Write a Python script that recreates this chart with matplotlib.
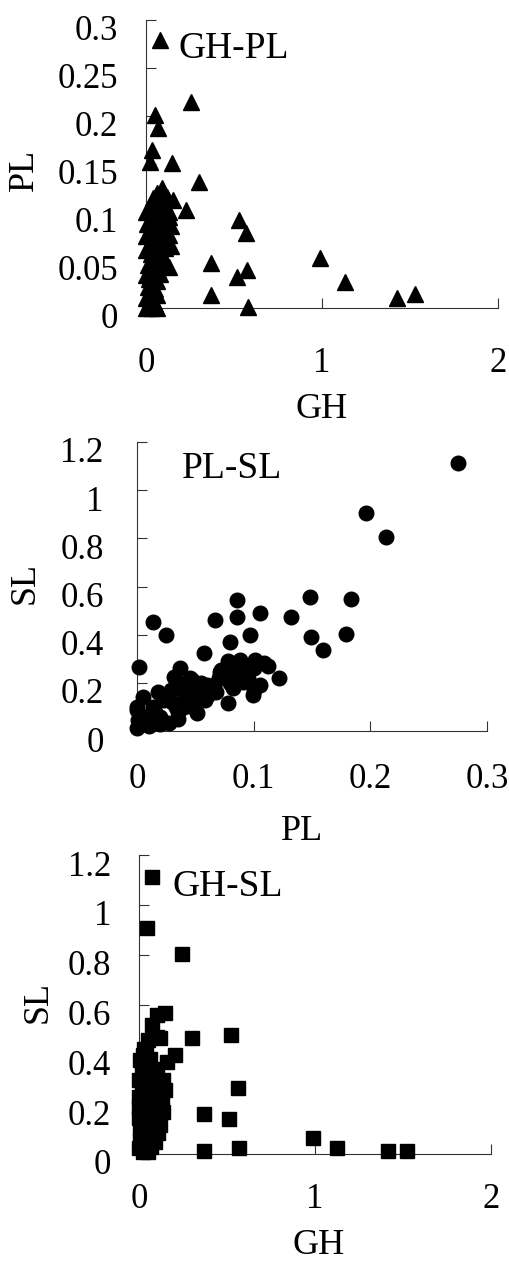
import matplotlib
matplotlib.use("Agg")
import matplotlib.pyplot as plt
from matplotlib.transforms import ScaledTranslation

plt.rcParams['font.family'] = ['Liberation Serif', 'DejaVu Serif']

# GH-PL panel (triangles)
gh_pl_gh = [0.08, 0.256, 0.051, 0.07, 0.032, 0.023, 0.146, 0.30, 0.227, 0.53,
            0.57, 0.37, 0.517, 0.574, 0.37, 0.58, 0.99, 1.13, 1.425, 1.53,
            0.13, 0.089, 0.07, 0.10, 0.118, 0.155, 0.023, 0.05, 0.08, 0.11,
            0.13, 0.004, 0.03, 0.06, 0.09, 0.12, 0.01, 0.04, 0.07, 0.10,
            0.13, 0.02, 0.05, 0.08, 0.11, 0.03, 0.06, 0.09, 0.01, 0.04,
            0.07, 0.0, 0.03, 0.06, 0.01, 0.04, 0.065, 0.0, 0.025, 0.05,
            0.0, 0.03, 0.06, 0.13, 0.14, 0.12, 0.14, 0.10, 0.11, 0.08,
            0.05, 0.02, 0.015, 0.0, 0.0, 0.0, 0.04, 0.06]
gh_pl_pl = [0.279, 0.215, 0.201, 0.187, 0.165, 0.152, 0.151, 0.131, 0.102, 0.092,
            0.078, 0.047, 0.032, 0.040, 0.014, 0.001, 0.052, 0.027, 0.010, 0.015,
            0.043, 0.125, 0.118, 0.118, 0.116, 0.112, 0.105, 0.108, 0.108, 0.104,
            0.100, 0.088, 0.094, 0.097, 0.094, 0.090, 0.078, 0.082, 0.084, 0.080,
            0.076, 0.068, 0.070, 0.066, 0.062, 0.056, 0.055, 0.052, 0.045, 0.044,
            0.040, 0.034, 0.032, 0.028, 0.022, 0.018, 0.014, 0.010, 0.008, 0.004,
            0.0, 0.0, 0.0, 0.095, 0.085, 0.070, 0.065, 0.045, 0.050, 0.035,
            0.020, 0.015, 0.030, 0.060, 0.075, 0.100, 0.115, 0.120]

# PL-SL panel (circles)
pl_sl_pl = [0.275, 0.196, 0.213, 0.148, 0.183, 0.086, 0.132, 0.105, 0.086, 0.067,
            0.014, 0.025, 0.097, 0.149, 0.179, 0.159, 0.080, 0.057, 0.002, 0.122,
            0.037, 0.078, 0.101, 0.109, 0.072, 0.086, 0.035, 0.047, 0.061, 0.078,
            0.082, 0.099, 0.105, 0.091, 0.051, 0.039, 0.022, 0.005, 0.014, 0.0,
            0.001, 0.012, 0.027, 0.0, 0.029, 0.032, 0.018, 0.071, 0.088, 0.083,
            0.094, 0.043, 0.040, 0.023, 0.0, 0.005, 0.010, 0.052, 0.066, 0.080,
            0.045, 0.035, 0.020, 0.100, 0.078, 0.045, 0.050, 0.055, 0.040, 0.030,
            0.015, 0.008, 0.020, 0.035, 0.060, 0.070, 0.075, 0.090, 0.095, 0.112,
            0.100, 0.068, 0.058, 0.048, 0.033]
pl_sl_sl = [1.111, 0.907, 0.804, 0.557, 0.548, 0.546, 0.474, 0.492, 0.474, 0.461,
            0.452, 0.400, 0.400, 0.389, 0.401, 0.336, 0.368, 0.325, 0.267, 0.218,
            0.263, 0.290, 0.295, 0.281, 0.253, 0.239, 0.198, 0.212, 0.149, 0.115,
            0.177, 0.149, 0.191, 0.205, 0.073, 0.115, 0.142, 0.142, 0.101, 0.087,
            0.046, 0.039, 0.032, 0.011, 0.170, 0.225, 0.163, 0.246, 0.295, 0.222,
            0.240, 0.190, 0.101, 0.130, 0.100, 0.060, 0.020, 0.170, 0.190, 0.200,
            0.140, 0.080, 0.060, 0.260, 0.270, 0.220, 0.180, 0.200, 0.160, 0.120,
            0.080, 0.050, 0.030, 0.050, 0.190, 0.220, 0.240, 0.260, 0.220, 0.270,
            0.170, 0.160, 0.130, 0.100, 0.100]

# GH-SL panel (squares)
gh_sl_gh = [0.072, 0.044, 0.243, 0.30, 0.523, 0.564, 0.369, 0.513, 0.369, 0.568,
            0.99, 1.127, 1.417, 1.525, 0.205, 0.157, 0.10, 0.148, 0.072, 0.10,
            0.053, 0.12, 0.024, 0.006, 0.015, 0.04, 0.0, 0.072, 0.138, 0.015,
            0.091, 0.148, 0.0, 0.063, 0.129, 0.0, 0.072, 0.138, 0.0, 0.063,
            0.119, 0.006, 0.072, 0.11, 0.006, 0.063, 0.0, 0.053, 0.04, 0.035,
            0.10, 0.04, 0.10, 0.035, 0.03, 0.03, 0.10, 0.09, 0.03, 0.06,
            0.08, 0.05, 0.11, 0.02, 0.05, 0.11, 0.03, 0.09, 0.04, 0.10,
            0.02, 0.07, 0.02]
gh_sl_sl = [1.110, 0.909, 0.801, 0.467, 0.478, 0.264, 0.160, 0.140, 0.012, 0.023,
            0.063, 0.023, 0.012, 0.012, 0.397, 0.370, 0.558, 0.565, 0.518, 0.471,
            0.457, 0.465, 0.397, 0.377, 0.337, 0.410, 0.297, 0.297, 0.297, 0.264,
            0.264, 0.257, 0.230, 0.217, 0.217, 0.190, 0.177, 0.170, 0.143, 0.130,
            0.116, 0.103, 0.083, 0.083, 0.056, 0.049, 0.023, 0.009, 0.350, 0.320,
            0.330, 0.250, 0.200, 0.200, 0.100, 0.030, 0.140, 0.050, 0.420, 0.380,
            0.340, 0.280, 0.260, 0.270, 0.170, 0.190, 0.160, 0.120, 0.080, 0.100,
            0.070, 0.030, 0.010]

fig = plt.figure(figsize=(5.09, 12.62), dpi=100)


def style_axes(ax, xticks, yticks, xpad, ypad):
    ax.set_xlim(xticks[0], xticks[-1])
    ax.set_ylim(yticks[0], yticks[-1])
    ax.set_xticks(xticks)
    ax.set_yticks(yticks)
    ax.set_xticklabels(['%g' % v for v in xticks])
    ax.set_yticklabels(['%g' % v for v in yticks])
    ax.spines[['top', 'right']].set_visible(False)
    for side in ['left', 'bottom']:
        ax.spines[side].set_linewidth(0.8)
        ax.spines[side].set_color('#333333')
    ax.tick_params(direction='in', length=7, width=0.8, color='#333333', labelsize=25)
    ax.tick_params(axis='x', pad=xpad)
    ax.tick_params(axis='y', pad=ypad)
    # labels sit a little below their ticks in the original
    offset = ScaledTranslation(0, -0.08, fig.dpi_scale_trans)
    for lab in ax.get_yticklabels():
        lab.set_transform(lab.get_transform() + offset)


# top panel
ax1 = fig.add_axes([146 / 509, 1 - 308 / 1262, 352 / 509, 288 / 1262])
ax1.plot(gh_pl_gh, gh_pl_pl, '^', color='black', ms=12, clip_on=False, zorder=3)
style_axes(ax1, [0, 1, 2], [0, 0.05, 0.1, 0.15, 0.2, 0.25, 0.3], 28, 20)
ax1.set_xlabel('GH', fontsize=26, va='center')
ax1.xaxis.set_label_coords(0.5, -0.354)
ax1.set_ylabel('PL', fontsize=26, va='center')
ax1.yaxis.set_label_coords(-0.344, 0.479)
ax1.text(0.091, 0.899, 'GH-PL', fontsize=27, va='center', transform=ax1.transAxes)

# middle panel
ax2 = fig.add_axes([137 / 509, 1 - 731 / 1262, 350 / 509, 289 / 1262])
ax2.plot(pl_sl_pl, pl_sl_sl, 'o', color='black', ms=10.5, clip_on=False, zorder=3)
style_axes(ax2, [0, 0.1, 0.2, 0.3], [0, 0.2, 0.4, 0.6, 0.8, 1, 1.2], 23, 24)
ax2.set_xlabel('PL', fontsize=26, va='center')
ax2.xaxis.set_label_coords(0.471, -0.349)
ax2.set_ylabel('SL', fontsize=26, va='center')
ax2.yaxis.set_label_coords(-0.32, 0.512)
ax2.text(0.129, 0.907, 'PL-SL', fontsize=27, va='center', transform=ax2.transAxes)

# bottom panel
ax3 = fig.add_axes([139 / 509, 1 - 1154 / 1262, 352 / 509, 299 / 1262])
ax3.plot(gh_sl_gh, gh_sl_sl, 's', color='black', ms=10, clip_on=False, zorder=3)
style_axes(ax3, [0, 1, 2], [0, 0.2, 0.4, 0.6, 0.8, 1, 1.2], 21, 20)
ax3.set_xlabel('GH', fontsize=26, va='center')
ax3.xaxis.set_label_coords(0.511, -0.306)
ax3.set_ylabel('SL', fontsize=26, va='center')
ax3.yaxis.set_label_coords(-0.287, 0.508)
ax3.text(0.094, 0.893, 'GH-SL', fontsize=27, va='center', transform=ax3.transAxes)

fig.savefig('out.png', dpi=100)
